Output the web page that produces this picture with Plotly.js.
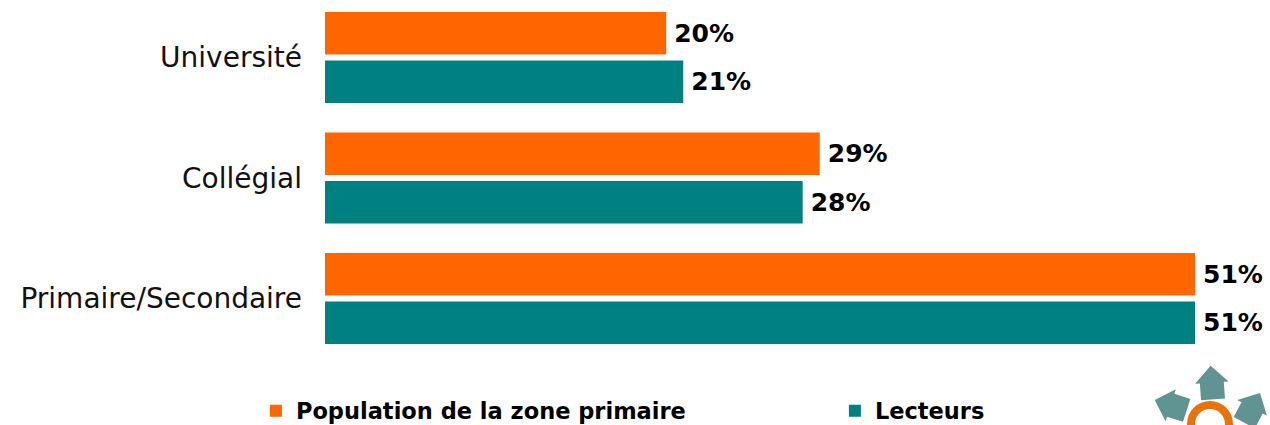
<!DOCTYPE html>
<html>
<head>
<meta charset="utf-8">
<script src="https://cdn.plot.ly/plotly-3.0.1.min.js"></script>
<style>html,body{margin:0;padding:0;background:#fff;}#chart{width:1270px;height:425px;}</style>
</head>
<body>
<div id="chart"></div>
<script>
// Data
const categories = ["Université", "Collégial", "Primaire/Secondaire"];
const populationZone = [20, 29, 51];
const lecteurs = [21, 28, 51];
const seriesNames = ["Population de la zone primaire", "Lecteurs"];

const W = 1270, H = 425;
const M = {l: 325, r: 5, t: 0, b: 65, autoexpand: false};
const PW = W - M.l - M.r, PH = H - M.t - M.b;

function lbl(v) { return v.map(x => "\u2009" + x + "%"); }

const common = {
  type: "bar", orientation: "h", y: categories,
  textposition: "outside", cliponaxis: false,
  textfont: {family: "DejaVu Sans", size: 25, color: "#000", weight: "bold"},
  hoverinfo: "skip"
};
const traces = [
  Object.assign({}, common, {name: seriesNames[0], x: populationZone, text: lbl(populationZone),
    marker: {color: "#FF6600"}, legendwidth: 534}),
  Object.assign({}, common, {name: seriesNames[1], x: lecteurs, text: lbl(lecteurs),
    marker: {color: "#008080"}, legendwidth: 130})
];

// decorative logo (pixel -> paper)
function px(x) { return (x - M.l) / PW; }
function py(y) { return 1 - (y - M.t) / PH; }
function house(cx, cy, ang, s) {
  const pts = [[-10,12],[10,12],[10,-2],[14,-2],[0,-16],[-14,-2],[-10,-2]];
  const a = ang * Math.PI / 180;
  const p = pts.map(([x, y]) => {
    const X = cx + s * (x * Math.cos(a) - y * Math.sin(a));
    const Y = cy + s * (x * Math.sin(a) + y * Math.cos(a));
    return px(X).toFixed(5) + "," + py(Y).toFixed(5);
  });
  return {type: "path", xref: "paper", yref: "paper", path: "M" + p.join("L") + "Z",
          fillcolor: "#5F9492", line: {width: 0}, layer: "above"};
}
const shapes = [
  house(1212, 385, -4, 1.2),
  house(1173, 406, -72, 1.2),
  house(1251, 410, 28, 1.2),
  {type: "circle", xref: "paper", yref: "paper", x0: px(1191), x1: px(1229), y0: py(443), y1: py(405),
   fillcolor: "rgba(0,0,0,0)", line: {color: "#E8720C", width: 8}, layer: "above"}
];

const layout = {
  width: W, height: H,
  margin: M,
  paper_bgcolor: "#fff", plot_bgcolor: "#fff",
  barmode: "group", bargap: 0.195, bargroupgap: 0.124,
  showlegend: true,
  font: {family: "DejaVu Sans", color: "#000"},
  xaxis: {range: [0, PW / 17.06], showgrid: false, zeroline: false, showline: false,
          showticklabels: false, ticks: "", fixedrange: true},
  yaxis: {type: "category", range: [-0.477 + PH / 120.5, -0.477], showgrid: false, zeroline: false,
          showline: false, ticks: "", ticklabelstandoff: 22,
          tickfont: {family: "DejaVu Sans", size: 28, color: "#111"}},
  legend: {orientation: "h", xref: "container", yref: "paper", x: 0.2015, xanchor: "left",
           y: py(411), yanchor: "middle", traceorder: "normal",
           font: {family: "DejaVu Sans", size: 22.5, color: "#000", weight: "bold"},
           bgcolor: "rgba(0,0,0,0)"},
  shapes: shapes
};

Plotly.newPlot("chart", traces, layout, {displayModeBar: false, staticPlot: true});
</script>
</body>
</html>
